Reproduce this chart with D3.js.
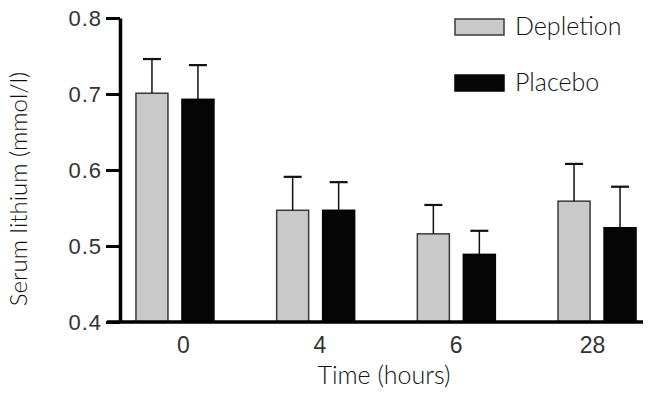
<!DOCTYPE html>
<html lang="en">

<head>
    <meta charset="UTF-8">
    <title>Serum lithium</title>
    <script src="https://d3js.org/d3.v7.min.js"></script>
    <style>
        body { margin: 0; background: #fff; }
        .tick text { font-family: "Liberation Sans", Arial, sans-serif; fill: #333; }
        .title { font-family: Lato, "Open Sans", sans-serif; font-weight: 300; fill: #111; }
    </style>
</head>

<body>
    <div id="chart"></div>
    <script>
        const times = ["0", "4", "6", "28"];
        const seriesNames = ["Depletion", "Placebo"];
        const depletion = [0.701, 0.547, 0.516, 0.559];
        const depletionErr = [0.045, 0.044, 0.038, 0.049];
        const placebo = [0.693, 0.547, 0.489, 0.524];
        const placeboErr = [0.045, 0.037, 0.031, 0.054];
        const yTicks = [0.4, 0.5, 0.6, 0.7, 0.8];

        const W = 652, H = 396;
        const axisX = 120, plotTop = 18, plotBottom = 322;

        const rows = [];
        times.forEach((t, i) => {
            rows.push({ time: t, series: "Depletion", value: depletion[i], err: depletionErr[i] });
            rows.push({ time: t, series: "Placebo", value: placebo[i], err: placeboErr[i] });
        });

        const colors = { Depletion: "#c9c9c9", Placebo: "#050505" };
        const strokes = { Depletion: "#3a3a3a", Placebo: "#050505" };

        const svg = d3.select("#chart").append("svg")
            .attr("width", W)
            .attr("height", H);

        const yScale = d3.scaleLinear().domain([0.4, 0.8]).range([plotBottom, plotTop]);

        // groups: centers roughly 175, 316, 457, 597
        const x0 = d3.scaleBand().domain(times).range([104.6, 667.4]).padding(0);
        const half = x0.bandwidth() / 2;
        const x1 = d3.scaleBand().domain(seriesNames)
            .range([half - 39, half + 39])
            .paddingInner(0.304)
            .paddingOuter(0);

        const bars = svg.append("g");

        bars.selectAll("rect")
            .data(rows)
            .join("rect")
            .attr("x", d => x0(d.time) + x1(d.series))
            .attr("y", d => yScale(d.value))
            .attr("width", x1.bandwidth())
            .attr("height", d => yScale(0.4) - yScale(d.value))
            .attr("fill", d => colors[d.series])
            .attr("stroke", d => strokes[d.series])
            .attr("stroke-width", 1.5);

        // error bars (upper half only)
        const errs = svg.append("g").attr("stroke", "#111");
        rows.forEach(d => {
            const cx = x0(d.time) + x1(d.series) + x1.bandwidth() / 2;
            errs.append("line")
                .attr("x1", cx).attr("x2", cx)
                .attr("y1", yScale(d.value))
                .attr("y2", yScale(d.value + d.err))
                .attr("stroke-width", 1.5);
            errs.append("line")
                .attr("x1", cx - 9).attr("x2", cx + 9)
                .attr("y1", yScale(d.value + d.err))
                .attr("y2", yScale(d.value + d.err))
                .attr("stroke-width", 2.2);
        });

        // y axis
        const yAxis = svg.append("g")
            .attr("transform", "translate(" + axisX + ",0)")
            .call(d3.axisLeft(yScale)
                .tickValues(yTicks)
                .tickFormat(d3.format(".1f"))
                .tickSize(14)
                .tickSizeOuter(0)
                .tickPadding(4));
        yAxis.select(".domain").attr("stroke", "#000").attr("stroke-width", 3.5);
        yAxis.selectAll(".tick line").attr("stroke", "#000").attr("stroke-width", 3);
        yAxis.selectAll(".tick text")
            .attr("font-size", 22)
            .attr("letter-spacing", 1)
            .attr("dy", "0.36em");

        // x axis line
        svg.append("line")
            .attr("x1", 107).attr("x2", 643)
            .attr("y1", yScale(0.4)).attr("y2", yScale(0.4))
            .attr("stroke", "#000")
            .attr("stroke-width", 3.5);

        // x tick labels
        const labelScale = d3.scalePoint().domain(times).range([183, 592]);
        const xAxis = svg.append("g")
            .attr("transform", "translate(0," + plotBottom + ")")
            .call(d3.axisBottom(labelScale).tickSize(0));
        xAxis.select(".domain").remove();
        xAxis.selectAll(".tick text")
            .attr("font-size", 23)
            .attr("y", 31)
            .attr("dy", 0);

        // axis titles
        svg.append("text")
            .attr("class", "title")
            .attr("x", 384)
            .attr("y", 384)
            .attr("text-anchor", "middle")
            .attr("font-size", 25)
            .text("Time (hours)");

        svg.append("text")
            .attr("class", "title")
            .attr("transform", "translate(27,189) rotate(-90)")
            .attr("text-anchor", "middle")
            .attr("font-size", 24)
            .text("Serum lithium (mmol/l)");

        // legend
        const legend = svg.append("g").attr("transform", "translate(455,19)");
        seriesNames.forEach((s, i) => {
            const g = legend.append("g").attr("transform", "translate(0," + i * 56 + ")");
            g.append("rect")
                .attr("width", 49)
                .attr("height", 16)
                .attr("fill", colors[s])
                .attr("stroke", strokes[s])
                .attr("stroke-width", 1.5);
            g.append("text")
                .attr("class", "title")
                .attr("x", 60)
                .attr("y", 16)
                .attr("font-size", 25)
                .text(s);
        });
    </script>
</body>

</html>
